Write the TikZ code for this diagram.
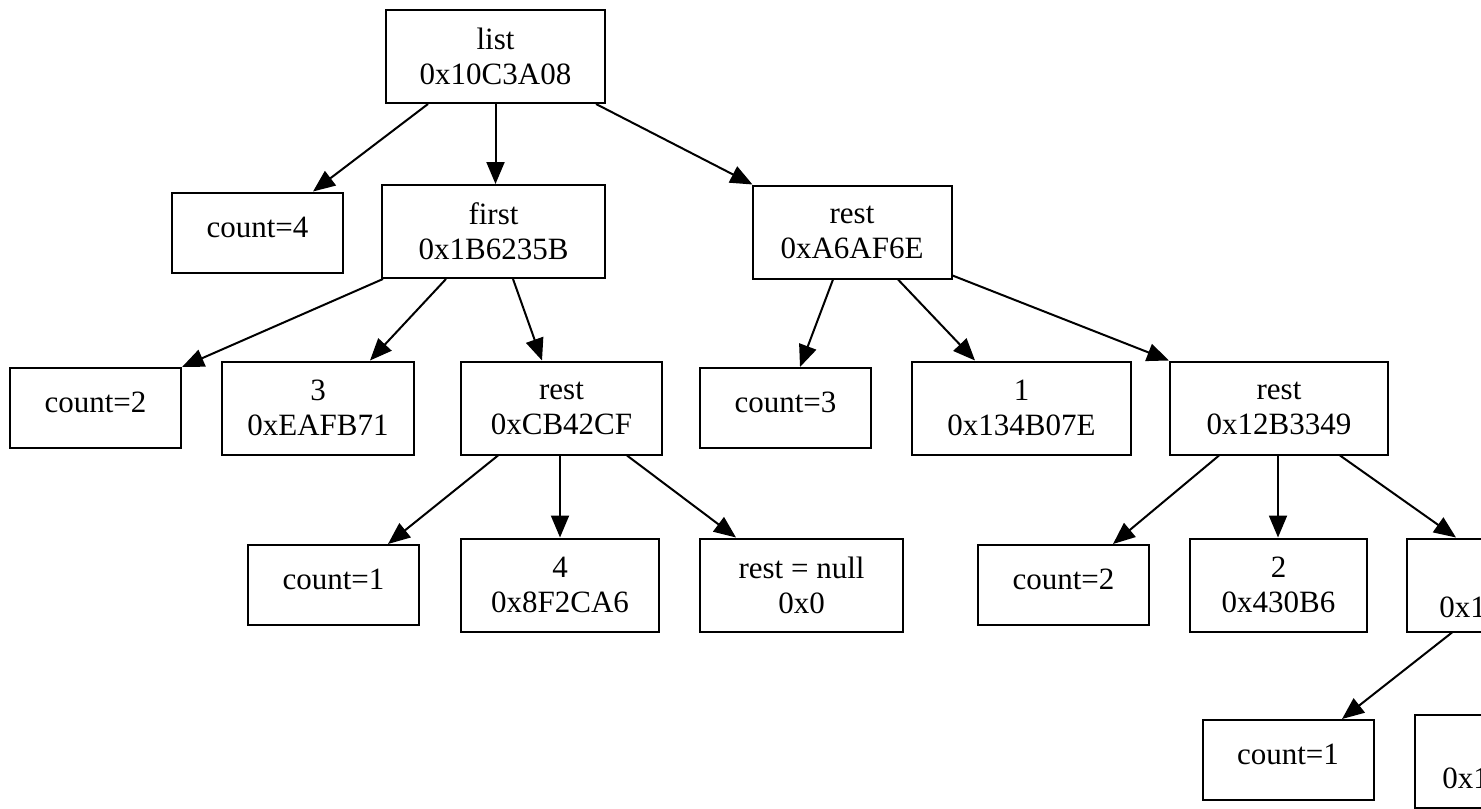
\documentclass[tikz,border=0pt]{standalone}
\usepackage{fontspec}
\setmainfont{Liberation Serif}
\usetikzlibrary{arrows.meta}
\newcommand\countlbl[1]{\raisebox{5.5pt}{#1}}
\begin{document}
\begin{tikzpicture}[x=0.5pt,y=-0.5pt,
  box/.style={draw, line width=1pt, inner sep=0pt, align=center,
    minimum height=46.5pt, font=\fontsize{15.5pt}{17.5pt}\selectfont},
  cbox/.style={box, minimum width=85.5pt, minimum height=40pt},
  edge/.style={line width=1pt, -{Triangle[length=11pt,width=9pt]}}]
\useasboundingbox (0,0) rectangle (1481,808);
\clip (0,0) rectangle (1481,808);

% level 0
\node[box, minimum width=109.5pt] (list) at (495.5,56.5) {list\\0x10C3A08};

% level 1
\node[cbox] (c4) at (257.5,232.5) {\countlbl{count=4}};
\node[box, minimum width=111.5pt] (first) at (493.5,231.5) {first\\0x1B6235B};
\node[box, minimum width=99.5pt] (restA) at (852,232) {rest\\0xA6AF6E};

% level 2
\node[cbox] (c2a) at (95.5,408) {\countlbl{count=2}};
\node[box, minimum width=96pt] (n3) at (318,408) {3\\0xEAFB71};
\node[box, minimum width=100.5pt] (restCB) at (561.5,408) {rest\\0xCB42CF};
\node[cbox] (c3) at (785.5,408) {\countlbl{count=3}};
\node[box, minimum width=109.5pt] (n1) at (1021.5,408) {1\\0x134B07E};
\node[box, minimum width=109pt] (rest12) at (1279,408) {rest\\0x12B3349};

% level 3
\node[cbox] (c1a) at (333.5,585) {\countlbl{count=1}};
\node[box, minimum width=99pt] (n4) at (560,585) {4\\0x8F2CA6};
\node[box, minimum width=101.5pt] (restnull) at (801.5,585) {rest = null\\0x0};
\node[cbox] (c2b) at (1063.5,585) {\countlbl{count=2}};
\node[box, minimum width=88.5pt] (n2) at (1278.5,585) {2\\0x430B6};
\node[box, minimum width=100pt] (p1) at (1507,585) {};
\node[anchor=west, inner sep=0pt, font=\fontsize{15.5pt}{17.5pt}\selectfont]
  (p1t) at ([xshift=16.5pt,yshift=-11pt]p1.west) {0x1};

% level 4
\node[cbox] (c1b) at (1288,760) {\countlbl{count=1}};
\node[box, minimum width=100pt] (p2) at (1515,761.5) {};
\node[anchor=west, inner sep=0pt, font=\fontsize{15.5pt}{17.5pt}\selectfont]
  (p2t) at ([xshift=14pt,yshift=-8.5pt]p2.west) {0x1};

% connectors
\draw[edge] ([xshift=-33.75pt]list.south) -- ([xshift=27.75pt]c4.north);
\draw[edge] (list.south) -- (list.south |- first.north);
\draw[edge] ([xshift=50.25pt]list.south) -- ([xshift=0.5pt]restA.north west);

\draw[edge] ([xshift=1pt]first.south west) -- (c2a.north east);
\draw[edge] ([xshift=-23.75pt]first.south) -- ([xshift=26pt]n3.north);
\draw[edge] ([xshift=9.75pt]first.south) -- ([xshift=-9.75pt]restCB.north);

\draw[edge] ([xshift=-9.5pt]restA.south) -- ([xshift=7.25pt]c3.north);
\draw[edge] ([xshift=23pt]restA.south) -- ([xshift=-23.25pt]n1.north);
\draw[edge] ([yshift=2pt]restA.south east) -- (rest12.north west);

\draw[edge] ([xshift=-31.75pt]restCB.south) -- ([xshift=27.25pt]c1a.north);
\draw[edge] ([xshift=-0.75pt]restCB.south) -- ([xshift=-0.75pt]restCB.south |- n4.north);
\draw[edge] ([xshift=32.75pt]restCB.south) -- ([xshift=-32.75pt]restnull.north);

\draw[edge] ([xshift=-30pt]rest12.south) -- ([xshift=24.75pt]c2b.north);
\draw[edge] ([xshift=-0.5pt]rest12.south) -- ([xshift=-0.5pt]rest12.south |- n2.north);
\draw[edge] ([xshift=30.5pt]rest12.south) -- ([xshift=25pt]p1.north west);

\draw[edge] ([xshift=23pt]p1.south west) -- ([xshift=27pt]c1b.north);
\end{tikzpicture}
\end{document}
